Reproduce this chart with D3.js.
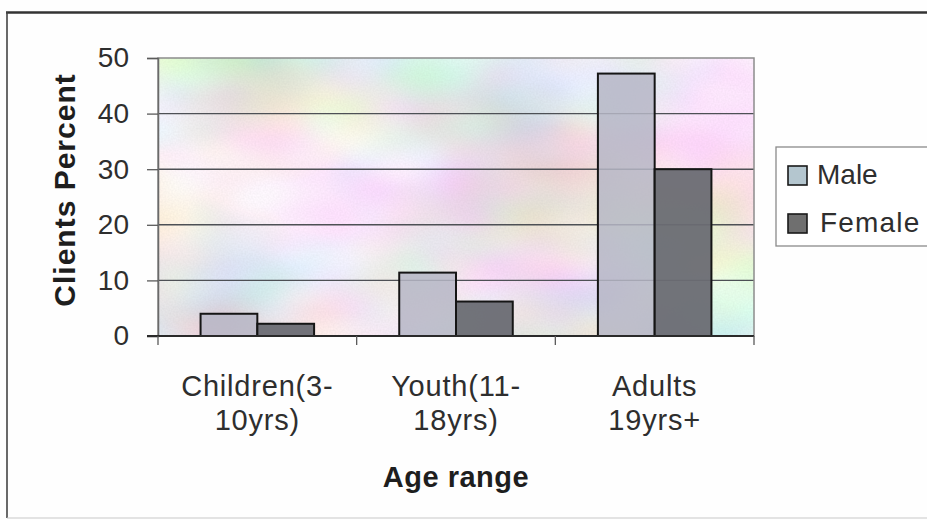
<!DOCTYPE html>
<html>
<head>
<meta charset="utf-8">
<script src="https://cdn.jsdelivr.net/npm/d3@7"></script>
<style>
  html, body { margin: 0; padding: 0; background: #fefefe; }
  svg { display: block; font-family: "Liberation Sans", Arial, sans-serif; }
</style>
</head>
<body>
<svg id="chart" width="927" height="520"></svg>
<script>
// Clients by age range and sex (percent)
const categories = [["Children(3-", "10yrs)"], ["Youth(11-", "18yrs)"], ["Adults", "19yrs+"]];
const seriesNames = ["Male", "Female"];
const maleValues = [4.0, 11.4, 47.2];
const femaleValues = [2.2, 6.2, 30.0];
const yTicks = [0, 10, 20, 30, 40, 50];
const seriesColors = ["#b6b6c6", "#6a6c73"];
const legendColors = ["#b4c6cf", "#6f6f6f"];

const svg = d3.select("#chart");
const defs = svg.append("defs");

// Pastel marbled texture for the plot area
const marble = defs.append("filter").attr("id", "marble")
  .attr("x", 0).attr("y", 0).attr("width", 1).attr("height", 1)
  .attr("filterUnits", "objectBoundingBox");
marble.append("feTurbulence").attr("type", "fractalNoise")
  .attr("baseFrequency", "0.005 0.008").attr("numOctaves", 3).attr("seed", 11)
  .attr("result", "noise");
marble.append("feColorMatrix").attr("in", "noise").attr("type", "matrix")
  .attr("values", "0.8 0 0 0 0.46  0 0.75 0 0 0.47  0 0 0.8 0 0.45  0 0 0 0 1")
  .attr("result", "col");
marble.append("feTurbulence").attr("type", "fractalNoise")
  .attr("baseFrequency", "0.6").attr("numOctaves", 1).attr("seed", 3)
  .attr("result", "grain");
marble.append("feColorMatrix").attr("in", "grain").attr("type", "matrix")
  .attr("values", "0 0 0 0 0.3  0 0 0 0 0.3  0 0 0 0 0.3  0 0 0 0.2 -0.05")
  .attr("result", "grainA");
marble.append("feComposite").attr("in", "grainA").attr("in2", "col").attr("operator", "over");

const x0 = d3.scaleBand()
  .domain(d3.range(categories.length))
  .range([158, 754])
  .paddingInner(0).paddingOuter(0);

const x1 = d3.scaleBand()
  .domain(seriesNames)
  .range([0, x0.bandwidth()])
  .paddingInner(0).paddingOuter(0.75);

const y = d3.scaleLinear().domain([0, 50]).range([336, 58]);

// Outer chart frame (runs past the right edge)
const frame = svg.append("g").attr("fill", "none");
frame.append("line").attr("x1", 6).attr("x2", 927).attr("y1", 12.5).attr("y2", 12.5)
  .attr("stroke", "#333333").attr("stroke-width", 2.6);
frame.append("line").attr("x1", 7).attr("x2", 7).attr("y1", 12).attr("y2", 518)
  .attr("stroke", "#444444").attr("stroke-width", 1.6);
frame.append("line").attr("x1", 7).attr("x2", 927).attr("y1", 518).attr("y2", 518)
  .attr("stroke", "#c8c8c8").attr("stroke-width", 1.2);

// Plot area background
svg.append("rect")
  .attr("x", x0.range()[0]).attr("y", y(50))
  .attr("width", x0.range()[1] - x0.range()[0]).attr("height", y(0) - y(50))
  .attr("filter", "url(#marble)");

// Horizontal gridlines
svg.append("g").selectAll("line")
  .data(yTicks.filter(d => d > 0 && d < 50))
  .join("line")
  .attr("x1", x0.range()[0]).attr("x2", x0.range()[1])
  .attr("y1", d => y(d)).attr("y2", d => y(d))
  .attr("stroke", "#4d5055").attr("stroke-width", 1.4);

// Plot area border
svg.append("rect")
  .attr("x", x0.range()[0]).attr("y", y(50))
  .attr("width", x0.range()[1] - x0.range()[0]).attr("height", y(0) - y(50))
  .attr("fill", "none").attr("stroke", "#8c8c8c").attr("stroke-width", 1.5);

// Bars
const rows = categories.map((c, i) => ({ i, values: [maleValues[i], femaleValues[i]] }));
const groups = svg.append("g").selectAll("g")
  .data(rows).join("g")
  .attr("transform", d => `translate(${x0(d.i)},0)`);
groups.selectAll("rect")
  .data(d => d.values.map((v, k) => ({ name: seriesNames[k], v, k })))
  .join("rect")
  .attr("x", d => x1(d.name))
  .attr("y", d => y(d.v))
  .attr("width", x1.bandwidth())
  .attr("height", d => y(0) - y(d.v))
  .attr("fill", d => seriesColors[d.k])
  .attr("fill-opacity", d => d.k === 0 ? 0.85 : 0.95)
  .attr("stroke", "#151515").attr("stroke-width", 2);

// Y axis
const yAxis = svg.append("g")
  .attr("transform", `translate(${x0.range()[0]},0)`)
  .call(d3.axisLeft(y).tickValues(yTicks).tickSize(11).tickPadding(18).tickFormat(d3.format("d")));
yAxis.select(".domain").attr("stroke", "#6a6a6a").attr("stroke-width", 1.5);
yAxis.selectAll(".tick line").attr("stroke", "#5a5a5a").attr("stroke-width", 1.3);
yAxis.selectAll(".tick text")
  .attr("font-size", 28).attr("fill", "#2e2e2e")
  .attr("font-family", "'Liberation Sans', Arial, sans-serif");

// X axis line and category ticks
svg.append("line")
  .attr("x1", x0.range()[0] - 11).attr("x2", x0.range()[1])
  .attr("y1", y(0)).attr("y2", y(0))
  .attr("stroke", "#2a2a2a").attr("stroke-width", 2);
const boundaries = d3.range(categories.length + 1).map(i => i < categories.length ? x0(i) : x0.range()[1]);
svg.append("g").selectAll("line")
  .data(boundaries).join("line")
  .attr("x1", d => d).attr("x2", d => d)
  .attr("y1", y(0)).attr("y2", y(0) + 9)
  .attr("stroke", "#5a5a5a").attr("stroke-width", 1.3);

// Category labels (two lines each)
const catLabels = svg.append("g").selectAll("text")
  .data(categories).join("text")
  .attr("x", (d, i) => x0(i) + x0.bandwidth() / 2)
  .attr("y", 396)
  .attr("text-anchor", "middle")
  .attr("font-size", 29).attr("fill", "#2e2e2e")
  .attr("letter-spacing", 0.8);
catLabels.selectAll("tspan")
  .data(d => d).join("tspan")
  .attr("x", function () { return this.parentNode.getAttribute("x"); })
  .attr("dy", (d, k) => k === 0 ? 0 : 34)
  .text(d => d);

// Axis titles
svg.append("text")
  .attr("x", (x0.range()[0] + x0.range()[1]) / 2)
  .attr("y", 487)
  .attr("text-anchor", "middle")
  .attr("font-size", 29).attr("font-weight", "bold").attr("fill", "#1e1e1e")
  .attr("letter-spacing", 0.5)
  .text("Age range");

svg.append("text")
  .attr("transform", "translate(75,190) rotate(-90)")
  .attr("text-anchor", "middle")
  .attr("font-size", 30).attr("font-weight", "bold").attr("fill", "#1e1e1e")
  .attr("letter-spacing", 1)
  .text("Clients Percent");

// Legend
const legend = svg.append("g");
legend.append("rect")
  .attr("x", 776).attr("y", 147).attr("width", 200).attr("height", 99)
  .attr("fill", "#ffffff").attr("stroke", "#8a8a8a").attr("stroke-width", 1.3);
const items = legend.selectAll("g.item")
  .data(seriesNames).join("g").attr("class", "item")
  .attr("transform", (d, i) => `translate(788,${166 + i * 48})`);
items.append("rect")
  .attr("width", 19).attr("height", 19)
  .attr("fill", (d, i) => legendColors[i])
  .attr("stroke", "#1a1a1a").attr("stroke-width", 1.6);
items.append("text")
  .attr("x", (d, i) => i === 0 ? 29 : 32)
  .attr("y", 18)
  .attr("font-size", 28).attr("fill", "#2e2e2e")
  .attr("letter-spacing", (d, i) => i === 0 ? 0 : 1.2)
  .text(d => d);
</script>
</body>
</html>
